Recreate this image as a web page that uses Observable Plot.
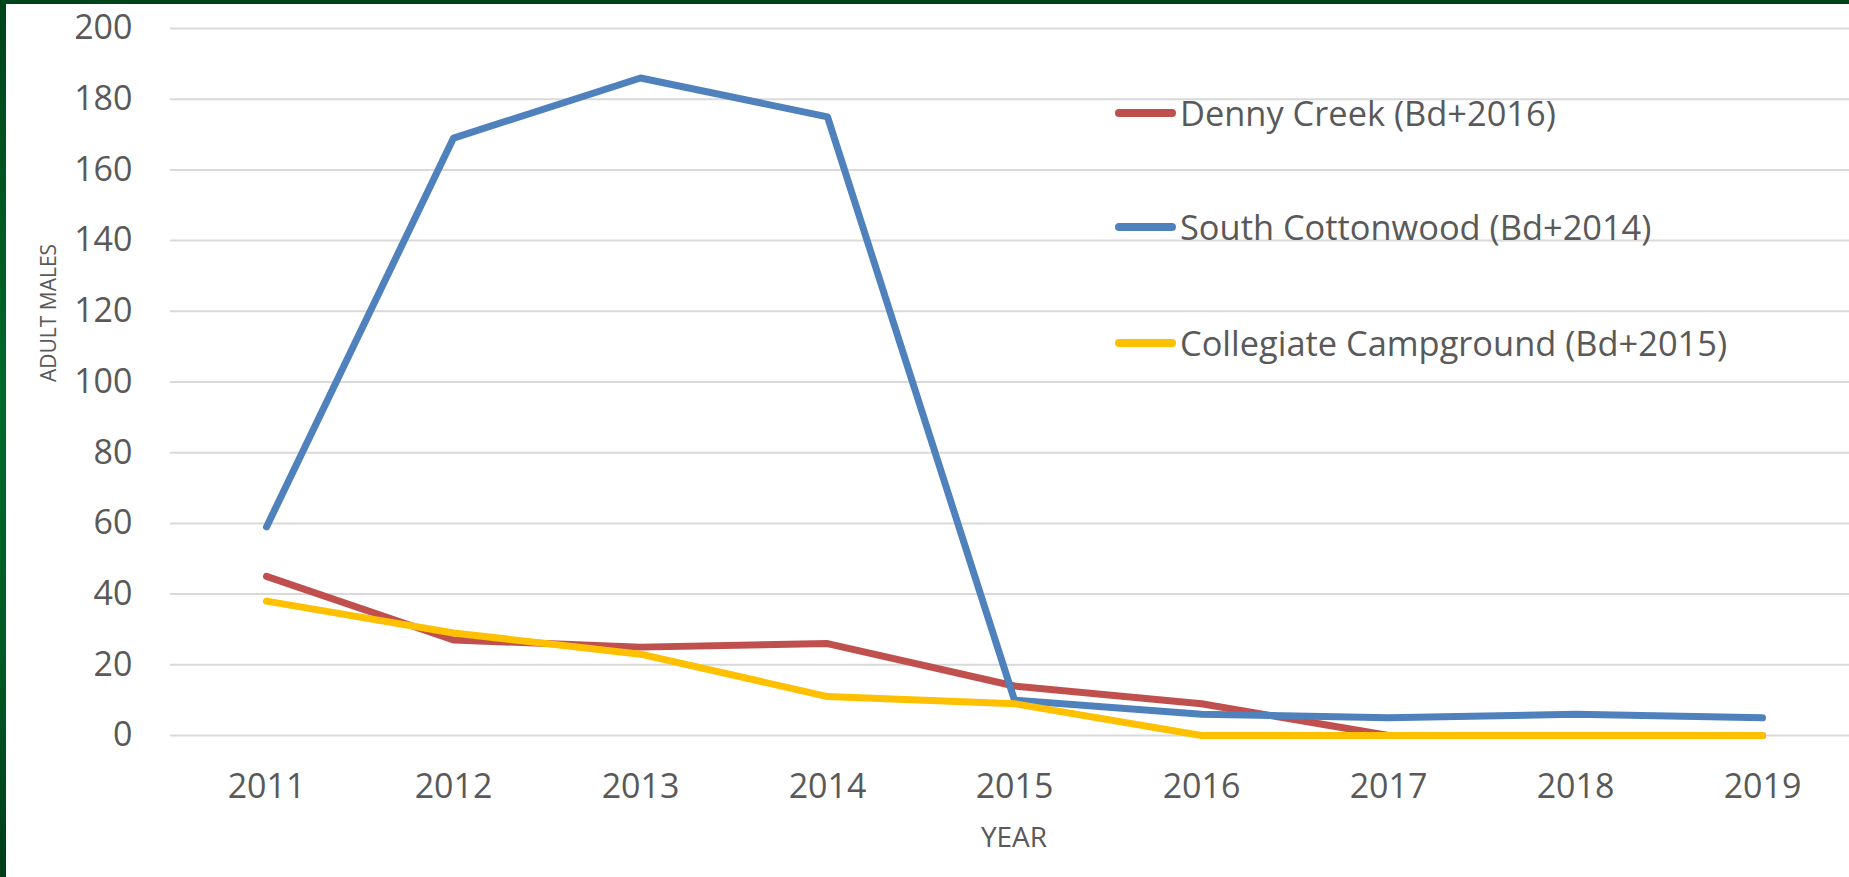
<!DOCTYPE html>
<html>
<head>
<meta charset="utf-8">
<script src="https://cdn.jsdelivr.net/npm/d3@7"></script>
<script src="https://cdn.jsdelivr.net/npm/@observablehq/plot@0.6"></script>
<style>
  html, body { margin: 0; padding: 0; background: #fff; overflow: hidden; }
  body { width: 1849px; height: 877px; position: relative; font-family: "Open Sans", sans-serif; }
  #chart { position: absolute; left: 0; top: 0; }
  .edge-left { position: absolute; left: 0; top: 0; width: 6px; height: 877px;
    background: linear-gradient(#00441a, #006a2c 45%, #005a25 75%, #003d18); }
  .edge-top { position: absolute; left: 0; top: 0; width: 1849px; height: 4px; background: #00441a; }
  #legend { position: absolute; left: 1115px; top: 0; }
  .item { position: absolute; left: 0; display: flex; align-items: center; height: 50px; white-space: nowrap; }
  .swatch { width: 61px; height: 8px; border-radius: 4px; margin-right: 4px; }
  .label { font-size: 34.4px; color: #595959; line-height: 50px; }
</style>
</head>
<body>
<div id="chart"></div>
<div id="legend"></div>
<div class="edge-left"></div>
<div class="edge-top"></div>
<script>
const years = [2011, 2012, 2013, 2014, 2015, 2016, 2017, 2018, 2019];
const dennyCreek = [45, 27, 25, 26, 14, 9, 0, 0, 0];
const southCottonwood = [59, 169, 186, 175, 10, 6, 5, 6, 5];
const collegiateCampground = [38, 29, 23, 11, 9, 0, 0, 0, 0];
const seriesNames = ["Denny Creek (Bd+2016)", "South Cottonwood (Bd+2014)", "Collegiate Campground (Bd+2015)"];
const seriesColors = ["#C0504D", "#4F81BD", "#FFC000"];
const yTicks = [0, 20, 40, 60, 80, 100, 120, 140, 160, 180, 200];
const yTitle = "ADULT MALES";
const xTitle = "YEAR";

const seriesValues = [dennyCreek, southCottonwood, collegiateCampground];
const rows = seriesValues.map((vals, s) => years.map((yr, i) => ({series: seriesNames[s], year: yr, value: vals[i]})));

const plot = Plot.plot({
  width: 1849,
  height: 877,
  marginTop: 28,
  marginBottom: 142,
  marginLeft: 170,
  marginRight: 0,
  insetLeft: 92,
  insetRight: 84,
  style: {fontFamily: "'Open Sans', sans-serif", fontSize: "34px", color: "#595959", background: "transparent"},
  x: {type: "point", domain: years, padding: 0, label: null},
  y: {domain: [0, 200], label: null},
  color: {domain: seriesNames, range: seriesColors},
  marks: [
    Plot.ruleY(yTicks, {stroke: "#d9d9d9", strokeWidth: 2}),
    ...rows.map(r => Plot.line(r, {x: "year", y: "value", stroke: "series", strokeWidth: 7, strokeLinejoin: "round", strokeLinecap: "round"})),
    Plot.axisY({ticks: yTicks, tickSize: 0, tickPadding: 38, fill: "#595959", fontSize: 34, label: null}),
    Plot.axisX({ticks: years, tickSize: 0, tickPadding: 38, tickFormat: d => String(d), fill: "#595959", fontSize: 34, label: null}),
    Plot.text([yTitle], {frameAnchor: "left", rotate: -90, dx: -121, fontSize: 21, fill: "#595959"}),
    Plot.text([xTitle], {frameAnchor: "bottom", lineAnchor: "middle", dy: 103, dx: 4, fontSize: 28, fill: "#595959"})
  ]
});
document.getElementById("chart").appendChild(plot);

const legendTops = [113, 227, 343];
const legend = document.getElementById("legend");
seriesNames.forEach((name, i) => {
  const item = document.createElement("div");
  item.className = "item";
  item.style.top = (legendTops[i] - 25) + "px";
  const sw = document.createElement("div");
  sw.className = "swatch";
  sw.style.background = seriesColors[i];
  const lab = document.createElement("span");
  lab.className = "label";
  lab.textContent = name;
  item.appendChild(sw);
  item.appendChild(lab);
  legend.appendChild(item);
});
</script>
</body>
</html>
